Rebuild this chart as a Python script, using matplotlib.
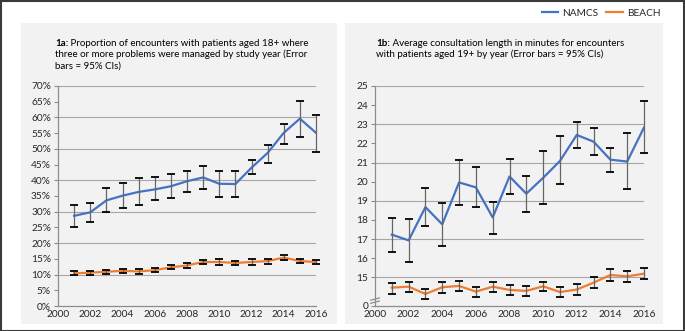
import matplotlib
matplotlib.use("Agg")
import matplotlib.pyplot as plt
from matplotlib.patches import Rectangle
from matplotlib.lines import Line2D
import matplotlib.transforms as mtransforms
import numpy as np

plt.rcParams['font.family'] = ['Lato', 'DejaVu Sans']

years = list(range(2001, 2017))

# Panel 1a (percent)
namcs_a = [28.7, 29.8, 33.6, 35.1, 36.3, 37.1, 38.1, 39.7, 40.9, 38.9, 38.8, 44.0, 48.7, 55.1, 59.6, 55.1]
namcs_a_lo = [25.0, 26.8, 29.8, 31.1, 32.0, 33.6, 34.3, 36.4, 37.2, 34.7, 34.7, 42.1, 45.6, 51.7, 53.7, 48.9]
namcs_a_hi = [32.2, 32.8, 37.4, 39.0, 40.6, 41.0, 42.0, 42.9, 44.5, 43.1, 42.9, 46.6, 51.2, 58.0, 65.3, 60.8]
beach_a = [10.4, 10.6, 10.9, 11.2, 11.0, 11.4, 12.3, 12.9, 14.0, 14.0, 13.7, 14.0, 14.3, 15.4, 14.3, 14.0]
beach_a_lo = [9.8, 10.0, 10.2, 10.5, 10.3, 10.7, 11.7, 12.2, 13.3, 13.2, 13.0, 13.2, 13.5, 14.6, 13.6, 13.3]
beach_a_hi = [11.0, 11.2, 11.6, 11.9, 11.7, 12.1, 12.9, 13.6, 14.7, 14.8, 14.4, 14.8, 15.1, 16.2, 15.0, 14.7]

# Panel 1b (minutes)
namcs_b = [17.23, 16.93, 18.67, 17.77, 19.96, 19.70, 18.13, 20.27, 19.37, 20.2, 21.08, 22.44, 22.09, 21.15, 21.05, 22.83]
namcs_b_lo = [16.34, 15.82, 17.68, 16.62, 18.78, 18.65, 17.28, 19.37, 18.41, 18.83, 19.86, 21.78, 21.38, 20.53, 19.59, 21.52]
namcs_b_hi = [18.11, 18.03, 19.68, 18.86, 21.12, 20.74, 18.93, 21.2, 20.29, 21.62, 22.41, 23.14, 22.79, 21.76, 22.53, 24.22]
beach_b = [14.46, 14.51, 14.13, 14.48, 14.55, 14.25, 14.51, 14.34, 14.29, 14.53, 14.23, 14.36, 14.72, 15.12, 15.05, 15.19]
beach_b_lo = [14.15, 14.25, 13.87, 14.18, 14.27, 13.99, 14.23, 14.10, 14.04, 14.27, 13.97, 14.10, 14.44, 14.81, 14.77, 14.91]
beach_b_hi = [14.70, 14.74, 14.41, 14.74, 14.83, 14.51, 14.77, 14.62, 14.53, 14.77, 14.50, 14.63, 15.00, 15.43, 15.31, 15.47]

xticks = [2000, 2002, 2004, 2006, 2008, 2010, 2012, 2014, 2016]
yticks_a = list(range(0, 71, 5))
yticks_a_labels = [f"{v}%" for v in yticks_a]
axis_floor_b = 13.5   # position shown as "0" after the axis break
yticks_b = [axis_floor_b] + list(range(15, 26))
yticks_b_labels = ["0"] + [str(v) for v in range(15, 26)]

series_names = ["NAMCS", "BEACH"]
title_a_bold = "1a:"
title_a_lines = [" Proportion of encounters with patients aged 18+ where",
                 "three or more problems were managed by study year (Error",
                 "bars = 95% CIs)"]
title_b_bold = "1b:"
title_b_lines = [" Average consultation length in minutes for encounters",
                 "with patients aged 19+ by year (Error bars = 95% CIs)"]

BLUE = "#4472C4"
ORANGE = "#ED7D31"
PANEL_BG = "#F2F2F2"
GRID = "#A6A6A6"
TXT = "#262626"
W, H = 685, 331

fig = plt.figure(figsize=(W / 100, H / 100), dpi=100)
fig.patch.set_facecolor("white")

def px_rect(x0, y0, x1, y1):
    return (x0 / W, 1 - y1 / H, (x1 - x0) / W, (y1 - y0) / H)

# outer border
fig.add_artist(Rectangle((0.5 / W, 0.5 / H), 1 - 1.5 / W, 1 - 1.5 / H, transform=fig.transFigure,
                         fill=False, edgecolor="#3a3a3a", lw=1.5))
# panel backgrounds
for r in [px_rect(21, 23, 337, 324), px_rect(345, 23, 663, 324)]:
    fig.add_artist(Rectangle((r[0], r[1]), r[2], r[3], transform=fig.transFigure,
                             facecolor=PANEL_BG, edgecolor="none", zorder=0))

ax1 = fig.add_axes(px_rect(58, 86, 316, 306))
ax2 = fig.add_axes(px_rect(375, 86, 644, 306))

def style(ax, ylim, yticks, ylabels, grid_vals):
    ax.set_facecolor("none")
    ax.set_xlim(2000, 2016)
    ax.set_ylim(*ylim)
    ax.set_xticks(xticks)
    ax.set_xticklabels([str(v) for v in xticks])
    ax.set_yticks(yticks)
    ax.set_yticklabels(ylabels)
    for g in grid_vals:
        ax.axhline(g, color=GRID, lw=0.8, zorder=1)
    for s in ["top", "right"]:
        ax.spines[s].set_visible(False)
    for s in ["left", "bottom"]:
        ax.spines[s].set_color("#8C8C8C")
        ax.spines[s].set_linewidth(0.9)
    ax.tick_params(axis="x", length=0, pad=3, labelsize=7.3, labelcolor=TXT)
    ax.tick_params(axis="y", length=3, width=0.8, color="#8C8C8C", pad=2, labelsize=7.3, labelcolor=TXT)

style(ax1, (0, 70), yticks_a, yticks_a_labels, [10, 20, 30, 40, 50, 60, 70])
style(ax2, (axis_floor_b, 25), yticks_b, yticks_b_labels, [15, 17, 19, 21, 23, 25])

def draw_series(ax, y, lo, hi, color, label):
    y = np.array(y); lo = np.array(lo); hi = np.array(hi)
    ax.plot(years, y, color=color, lw=1.6, zorder=3, label=label, solid_joinstyle="round")
    vl = ax.vlines(years, lo, hi, color="#666666", lw=0.9, zorder=4)
    vl.set_clip_on(False)
    cont = ax.errorbar(years, y, yerr=[y - lo, hi - y], fmt="none", ecolor="black",
                       elinewidth=0, capsize=2.6, capthick=1.3, zorder=5)
    for art in cont.lines[1]:
        art.set_clip_on(False)

draw_series(ax1, namcs_a, namcs_a_lo, namcs_a_hi, BLUE, series_names[0])
draw_series(ax1, beach_a, beach_a_lo, beach_a_hi, ORANGE, series_names[1])
draw_series(ax2, namcs_b, namcs_b_lo, namcs_b_hi, BLUE, series_names[0])
draw_series(ax2, beach_b, beach_b_lo, beach_b_hi, ORANGE, series_names[1])

# axis break marks on panel 1b
tr = mtransforms.blended_transform_factory(ax2.transAxes, ax2.transData)
for dy in (0.20, 0.36):
    yb = axis_floor_b + dy
    ax2.plot([-0.016, 0.016], [yb - 0.06, yb + 0.06], transform=tr, color="#8C8C8C",
             lw=0.9, clip_on=False, zorder=6)

# Titles
fs_title = 7.0
fig.canvas.draw()
renderer = fig.canvas.get_renderer()

def title(x_px, y_px, bold, lines):
    t = fig.text(x_px / W, 1 - y_px / H, bold, fontsize=fs_title, fontweight="bold",
                 color="black", va="center", ha="left")
    bb = t.get_window_extent(renderer)
    fig.text(x_px / W + bb.width / (W), 1 - y_px / H, lines[0], fontsize=fs_title,
             color="black", va="center", ha="left")
    for i, ln in enumerate(lines[1:], start=1):
        fig.text(x_px / W, 1 - (y_px + 11.7 * i) / H, ln, fontsize=fs_title,
                 color="black", va="center", ha="left")

title(55, 43, title_a_bold, title_a_lines)
title(376, 43, title_b_bold, title_b_lines)

# Legend
handles = [Line2D([], [], color=BLUE, lw=1.6), Line2D([], [], color=ORANGE, lw=1.6)]
fig.legend(handles, series_names, loc="center", bbox_to_anchor=(601 / W, 1 - 13 / H),
           ncol=2, frameon=False, fontsize=7.3, handlelength=1.6, handletextpad=0.4,
           columnspacing=0.8, labelcolor=TXT)

fig.savefig("out.png", dpi=100, facecolor="white")
